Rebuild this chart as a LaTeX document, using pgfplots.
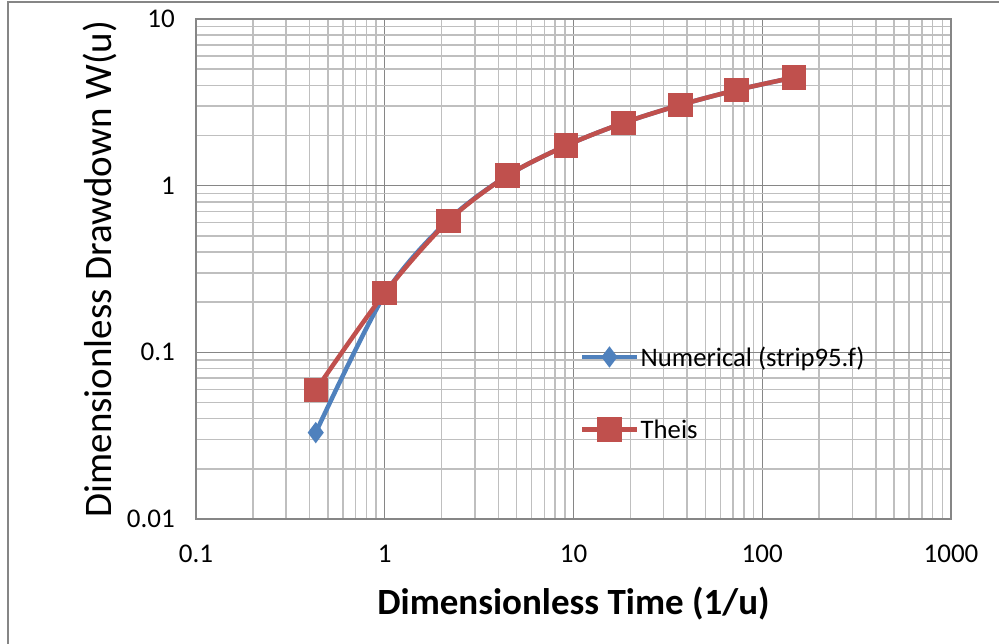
\documentclass[border=0pt]{standalone}
\usepackage{fontspec}
\setmainfont{Carlito}
\usepackage{pgfplots}
\pgfplotsset{compat=1.18}
\definecolor{exblue}{HTML}{4F81BD}
\definecolor{exred}{HTML}{C0504D}
\definecolor{majgrid}{HTML}{868686}
\definecolor{mingrid}{HTML}{BFBFBF}
\begin{document}
\begin{tikzpicture}[x=1bp,y=1bp]
\path[use as bounding box] (-196,-125) rectangle (803,519);
\begin{scope}
\clip (-196,-125) rectangle (803,519);
\draw[majgrid, line width=1.5bp] (-188,-140) -- (-188,517) -- (820,517);
\end{scope}
\begin{loglogaxis}[
  at={(0,0)}, anchor=south west,
  scale only axis, width=755bp, height=500bp,
  xmin=0.1, xmax=1000, ymin=0.01, ymax=10,
  xtick={0.1,1,10,100,1000}, xticklabels={0.1,1,10,100,1000},
  ytick={0.01,0.1,1,10}, yticklabels={0.01,0.1,1,10},
  major tick length=0pt, minor tick length=0pt,
  grid=both,
  major grid style={line width=1.5bp, majgrid},
  minor grid style={line width=1.5bp, mingrid},
  axis line style={line width=1.5bp, majgrid},
  tick label style={font=\fontsize{27bp}{30bp}\selectfont, inner sep=0pt},
  yticklabel style={anchor=east, xshift=-21bp},
  xticklabel style={anchor=north, yshift=-26bp},
  xlabel={Dimensionless Time (1/u)},
  ylabel={Dimensionless Drawdown W(u)},
  xlabel style={font=\fontsize{37bp}{42bp}\selectfont\bfseries, at={(axis description cs:0.5,-0.17)}, anchor=center},
  ylabel style={font=\fontsize{39bp}{44bp}\selectfont, at={(axis description cs:-0.127,0.5)}, anchor=center, rotate=0},
  legend style={draw=none, fill=none, at={(axis description cs:0.5086,0.252)}, anchor=west,
    font=\fontsize{26.7bp}{30bp}\selectfont, row sep=48bp, inner sep=0pt},
  legend cell align=left,
  legend image code/.code={\draw[mark repeat=2, mark phase=2, #1] plot coordinates {(0bp,0bp) (27bp,0bp) (54bp,0bp)};},
]
\addplot[exblue, line width=4.5bp, smooth, mark=diamond*, mark size=7bp, mark options={solid}] coordinates {
  (0.431,0.033) (1.0,0.222) (2.17,0.62) (4.46,1.148) (9.15,1.74) (18.4,2.38) (36.8,3.05) (73.2,3.75) (147.3,4.46)
};
\addlegendentry{Numerical (strip95.f)}
\addplot[exred, line width=4.5bp, smooth, mark=square*, mark size=10bp, mark options={solid}] coordinates {
  (0.431,0.0594) (1.0,0.227) (2.17,0.614) (4.46,1.148) (9.15,1.74) (18.4,2.38) (36.8,3.05) (73.2,3.75) (147.3,4.46)
};
\addlegendentry{Theis}
\end{loglogaxis}
\end{tikzpicture}
\end{document}
